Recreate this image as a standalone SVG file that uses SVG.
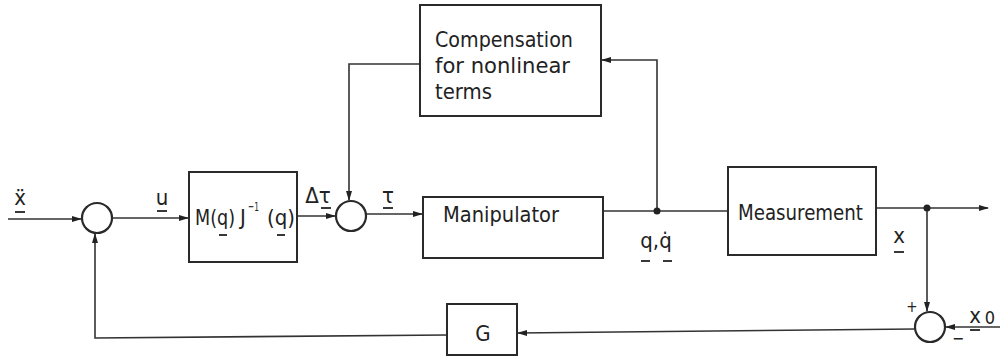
<svg xmlns="http://www.w3.org/2000/svg" width="1000" height="362" viewBox="0 0 1000 362">
<style>
.box{fill:#fff;stroke:#2a2a2a;stroke-width:2}
.sum{fill:#fff;stroke:#2a2a2a;stroke-width:2.2}
.ln{fill:none;stroke:#333;stroke-width:1.6}
.ul{stroke:#222;stroke-width:1.8}
text{font-family:"DejaVu Sans Condensed","Liberation Sans Narrow","Liberation Sans",sans-serif;fill:#222}
.t{font-size:22px}
.lb{font-size:22px}
</style>
<defs>
<marker id="ah" markerWidth="10" markerHeight="8" refX="9" refY="4" orient="auto" markerUnits="userSpaceOnUse">
<path d="M0,1 L10,4 L0,7 Z" fill="#222"/>
</marker>
</defs>
<rect width="1000" height="362" fill="#fff"/>
<g id="connectors">
<path class="ln" d="M8,219 H81" marker-end="url(#ah)"/>
<path class="ln" d="M112,218 H188" marker-end="url(#ah)"/>
<path class="ln" d="M297,216 H335" marker-end="url(#ah)"/>
<path class="ln" d="M366,214 H422" marker-end="url(#ah)"/>
<path class="ln" d="M603,211 H728"/>
<path class="ln" d="M657,211 V60 H602" marker-end="url(#ah)"/>
<path class="ln" d="M420,64 H349 V200" marker-end="url(#ah)"/>
<path class="ln" d="M876,208 H988" marker-end="url(#ah)"/>
<path class="ln" d="M927,208 V311" marker-end="url(#ah)"/>
<path class="ln" d="M1000,327 H946" marker-end="url(#ah)"/>
<path class="ln" d="M915,329 L518,333" marker-end="url(#ah)"/>
<path class="ln" d="M447,335 L95,338 V234" marker-end="url(#ah)"/>
<circle cx="657" cy="211" r="3.5" fill="#222"/>
<circle cx="927" cy="208" r="3.5" fill="#222"/>
</g>
<g id="sum1"><circle class="sum" cx="97" cy="218" r="15"/></g>
<g id="sum2"><circle class="sum" cx="351" cy="216" r="15"/></g>
<g id="sum3"><circle class="sum" cx="930" cy="327" r="15"/></g>
<g id="mj">
<rect class="box" x="189" y="172" width="108" height="90"/>
<text class="t" x="195" y="225" textLength="40" lengthAdjust="spacingAndGlyphs">M(q)</text>
<text class="t" x="240" y="225">J</text>
<text x="248" y="211" font-size="13" textLength="11" lengthAdjust="spacingAndGlyphs">−1</text>
<text class="t" x="267" y="225" textLength="28" lengthAdjust="spacingAndGlyphs">(q)</text>
<line class="ul" x1="219" y1="235" x2="227" y2="235"/>
<line class="ul" x1="277" y1="235" x2="285" y2="235"/>
</g>
<g id="compensation">
<rect class="box" x="420" y="5" width="181" height="111"/>
<text class="t" x="435" y="47" textLength="138" lengthAdjust="spacingAndGlyphs">Compensation</text>
<text class="t" x="435" y="73" textLength="135" lengthAdjust="spacingAndGlyphs">for nonlinear</text>
<text class="t" x="435" y="99" textLength="57" lengthAdjust="spacingAndGlyphs">terms</text>
</g>
<g id="manipulator">
<rect class="box" x="423" y="197" width="180" height="61"/>
<text class="t" x="443" y="222" textLength="116" lengthAdjust="spacingAndGlyphs">Manipulator</text>
</g>
<g id="measurement">
<rect class="box" x="728" y="167" width="148" height="88"/>
<text class="t" x="738" y="220" textLength="125" lengthAdjust="spacingAndGlyphs">Measurement</text>
</g>
<g id="g">
<rect class="box" x="447" y="304" width="70" height="51"/>
<text class="t" x="483" y="341" text-anchor="middle" font-size="24">G</text>
</g>
<g id="labels">
<text class="lb" x="20" y="205" text-anchor="middle">ẍ</text>
<line class="ul" x1="15" y1="212" x2="25" y2="212"/>
<text class="lb" x="162" y="205" text-anchor="middle">u</text>
<line class="ul" x1="157" y1="211" x2="167" y2="211"/>
<text class="lb" x="318" y="203" text-anchor="middle">Δτ</text>
<line class="ul" x1="321" y1="208" x2="331" y2="208"/>
<text class="lb" x="388" y="203" text-anchor="middle">τ</text>
<line class="ul" x1="383" y1="208" x2="393" y2="208"/>
<text class="lb" x="656" y="248" text-anchor="middle">q,q̇</text>
<line class="ul" x1="641" y1="261" x2="650" y2="261"/>
<line class="ul" x1="663" y1="261" x2="672" y2="261"/>
<text class="lb" x="899" y="243" text-anchor="middle">x</text>
<line class="ul" x1="894" y1="252" x2="904" y2="252"/>
<text x="912" y="312" text-anchor="middle" font-size="15">+</text>
<text x="958" y="344" text-anchor="middle" font-size="16">−</text>
<text class="lb" x="975" y="323" text-anchor="middle">x</text>
<text x="990" y="324" text-anchor="middle" font-size="18">0</text>
<line class="ul" x1="970" y1="330" x2="980" y2="330"/>
</g>
</svg>
